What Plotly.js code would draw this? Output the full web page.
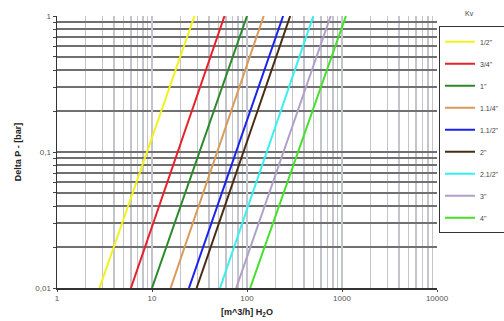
<!DOCTYPE html>
<html>
<head>
<meta charset="utf-8">
<script src="https://cdn.plot.ly/plotly-3.0.1.min.js"></script>
<style>html,body{margin:0;padding:0;background:#fff}#chart{width:504px;height:321px}</style>
</head>
<body>
<div id="chart"></div>
<script>
// Valve sizes and flow (m^3/h) read at Delta P = 0.01 bar and 1 bar
const sizes = ['1/2"', '3/4"', '1"', '1.1/4"', '1.1/2"', '2"', '2.1/2"', '3"', '4"'];
const flowAtLow = [2.8, 6.0, 10, 15.7, 24.5, 29.5, 52, 77, 108];
const flowAtHigh = [28, 58, 100, 150, 240, 285, 500, 760, 1100];
const dpLow = 0.01;
const dpHigh = 1;
const colors = ['#f2f21a', '#e8202a', '#2a8a2a', '#d99a5a', '#1a22ee', '#4a2c14', '#38f0f0', '#b0a0c8', '#44e02a'];

const xTickVals = [1, 10, 100, 1000, 10000];
const xTickText = ['1', '10', '100', '1000', '10000'];
const yTickVals = [0.01, 0.1, 1];
const yTickText = ['0,01', '0,1', '1'];

const xMinor = [];
[1, 10, 100, 1000].forEach(d => { for (let m = 2; m <= 9; m++) xMinor.push(d * m); });
const yMinor = [];
[0.01, 0.1].forEach(d => { for (let m = 2; m <= 9; m++) yMinor.push(+(d * m).toPrecision(3)); });

const traces = sizes.map((s, i) => ({
  x: [flowAtLow[i], flowAtHigh[i]],
  y: [dpLow, dpHigh],
  mode: 'lines',
  name: s,
  legendgroup: 'g' + i,
  line: {color: colors[i], width: 2},
  hoverinfo: 'skip'
}));

const layout = {
  width: 504, height: 321,
  margin: {l: 57, r: 67, t: 16, b: 33},
  paper_bgcolor: '#fff', plot_bgcolor: '#fff',
  font: {family: 'Liberation Sans, Arial, sans-serif', size: 8, color: '#444'},
  xaxis: {
    type: 'log', range: [0, 4],
    tickmode: 'array', tickvals: xTickVals, ticktext: xTickText,
    showgrid: true, gridcolor: '#c4c4cc', gridwidth: 1.5,
    ticks: 'outside', ticklen: 2, tickcolor: '#444',
    minor: {tickmode: 'array', tickvals: xMinor, showgrid: true, gridcolor: '#c4c4cc', gridwidth: 1.5, ticks: ''},
    showline: true, linecolor: '#333', linewidth: 1.5,
    zeroline: false,
    tickfont: {size: 8, color: '#555'},
    title: {text: '[m^3/h] H<sub>2</sub>O', font: {size: 9, color: '#222', weight: 'bold'}, standoff: 6}
  },
  yaxis: {
    type: 'log', range: [-2, 0],
    tickmode: 'array', tickvals: yTickVals, ticktext: yTickText,
    showgrid: true, gridcolor: '#707070', gridwidth: 1.5,
    ticks: 'outside', ticklen: 3, tickcolor: '#444',
    minor: {tickmode: 'array', tickvals: yMinor, showgrid: true, gridcolor: '#707070', gridwidth: 1.5, ticks: 'outside', ticklen: 3, tickcolor: '#444'},
    showline: true, linecolor: '#333', linewidth: 1.5,
    zeroline: false,
    tickfont: {size: 8, color: '#555'},
    title: {text: 'Delta P - [bar]', font: {size: 9, color: '#222', weight: 'bold'}, standoff: 12}
  },
  showlegend: true,
  legend: {
    xref: 'container', yref: 'container',
    x: 0.871, y: 0.918, xanchor: 'left', yanchor: 'top',
    bordercolor: '#333', borderwidth: 1, bgcolor: '#fff',
    font: {size: 7, color: '#444'},
    tracegroupgap: 3, itemwidth: 30, maxheight: 290
  },
  annotations: [{
    text: 'Kv', xref: 'paper', yref: 'paper', x: 1.085, y: 1.011,
    xanchor: 'center', yanchor: 'middle', showarrow: false,
    font: {size: 7, color: '#444'}
  }]
};

Plotly.newPlot('chart', traces, layout, {displayModeBar: false, staticPlot: true});
</script>
</body>
</html>
